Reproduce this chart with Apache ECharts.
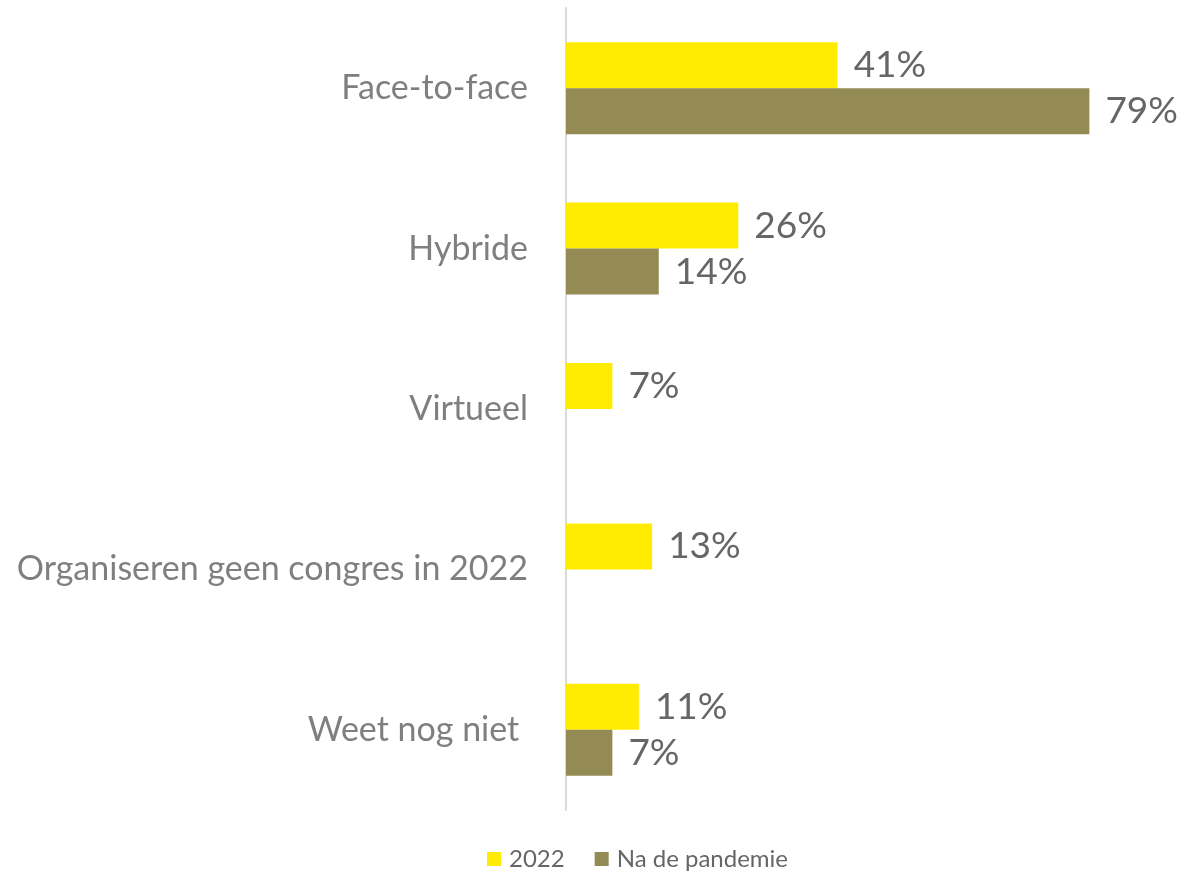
<!DOCTYPE html>
<html><head><meta charset="utf-8">
<script src="https://cdn.jsdelivr.net/npm/echarts@6/dist/echarts.min.js"></script>
<style>html,body{margin:0;padding:0;background:#fff}#c{width:1184px;height:876px}</style>
</head><body><div id="c"></div>
<script>
const categories = ['Face-to-face','Hybride','Virtueel','Organiseren geen congres in 2022','Weet nog niet '];
const seriesNames = ['2022','Na de pandemie'];
const values2022 = [41, 26, 7, 13, 11];
const valuesNa = [79, 14, null, null, 7];

const chart = echarts.init(document.getElementById('c'));
const font = 'Lato';
const lbl = {show:true, position:'right', distance:16, formatter:'{c}%', color:'#666666', fontSize:37, fontFamily:font};
chart.setOption({
  animation:false,
  grid:{left:566, top:8, width:530, height:802, containLabel:false},
  legend:{bottom:0, left:482, itemWidth:14, itemHeight:14, itemGap:30, icon:'rect',
    textStyle:{color:'#666666', fontSize:24, fontFamily:font, padding:[0,0,0,3]}, data:seriesNames},
  xAxis:{type:'value', min:0, max:80, show:false},
  yAxis:{type:'category', inverse:true, data:categories,
    axisLine:{show:true, lineStyle:{color:'#d9d9d9', width:2}},
    axisTick:{show:false},
    axisLabel:{color:'#7f7f7f', fontSize:34, fontFamily:font, margin:38}},
  series:[
    {name:seriesNames[0], type:'bar', data:values2022, barWidth:46, barGap:'0%', itemStyle:{color:'#FFEC00'}, label:lbl},
    {name:seriesNames[1], type:'bar', data:valuesNa, barWidth:46, barGap:'0%', itemStyle:{color:'#948A54'}, label:lbl}
  ]
});
</script></body></html>
